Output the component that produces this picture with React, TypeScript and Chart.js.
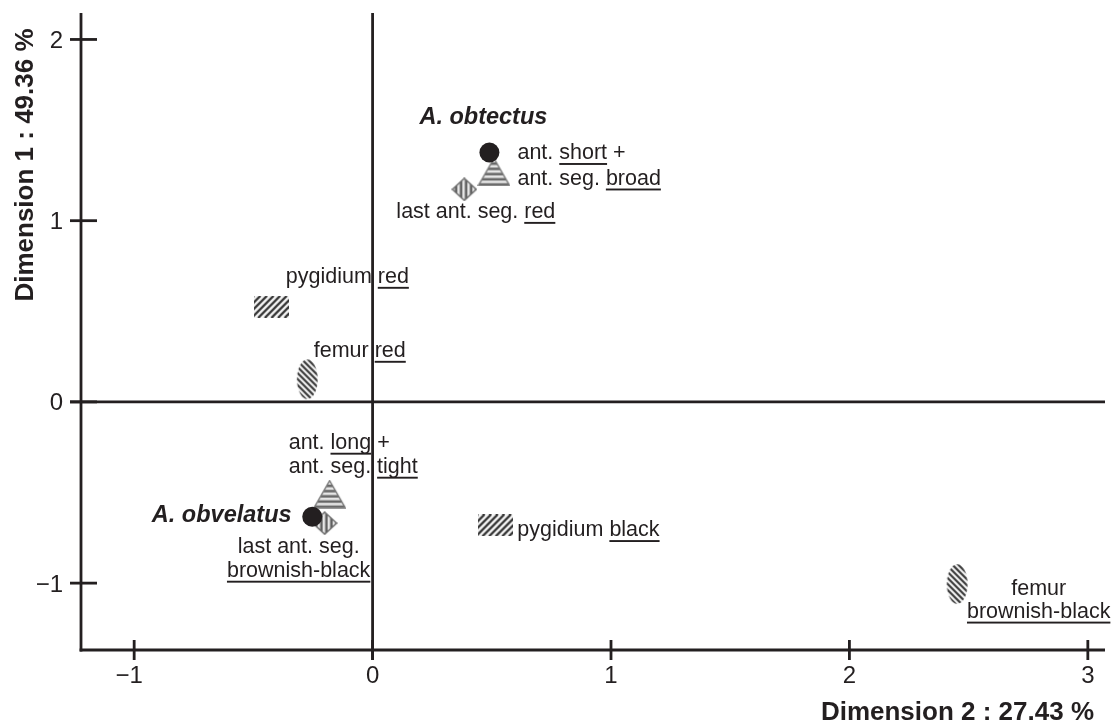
import React, { useEffect, useRef } from "react";
import { Chart, registerables } from "chart.js";

Chart.register(...registerables);

// ---------- data (Dimension 2 = x, Dimension 1 = y) ----------
const speciesNames = ["A. obtectus", "A. obvelatus"];
const speciesDim2 = [0.49, -0.253];
const speciesDim1 = [1.376, -0.634];

const antennaLabels = [
  ["ant. _short_ +", "ant. seg. _broad_"],
  ["ant. _long_ +", "ant. seg. _tight_"],
];
const antennaDim2 = [0.509, -0.18];
const antennaDim1 = [1.269, -0.509];

const lastSegLabels = [["last ant. seg. _red_"], ["last ant. seg.", "_brownish-black_"]];
const lastSegDim2 = [0.385, -0.201];
const lastSegDim1 = [1.173, -0.669];

const pygidiumLabels = [["pygidium _red_"], ["pygidium _black_"]];
const pygidiumDim2 = [-0.425, 0.515];
const pygidiumDim1 = [0.525, -0.682];

const femurLabels = [["femur _red_"], ["femur", "_brownish-black_"]];
const femurDim2 = [-0.274, 2.452];
const femurDim1 = [0.125, -1.005];

const xTicks = [-1, 0, 1, 2, 3];
const xTickLabels = ["\u22121", "0", "1", "2", "3"];
const yTicks = [-1, 0, 1, 2];
const yTickLabels = ["\u22121", "0", "1", "2"];
const xTitle = "Dimension 2 : 27.43 %";
const yTitle = "Dimension 1 : 49.36 %";
const xMin = -1.223;
const xMax = 3.072;
const yMin = -1.369;
const yMax = 2.146;

// ---------- styling / layout ----------
const INK = "#231f20";
const FONT = '"Liberation Sans", Arial, Helvetica, sans-serif';

type LabelPos = { dx: number; dy: number; align: CanvasTextAlign; lh?: number };
const labelLayout: LabelPos[][] = [
  [
    { dx: -70, dy: -29, align: "left" },
    { dx: -20.7, dy: 5, align: "right" },
  ],
  [
    { dx: 23.5, dy: -12.5, align: "left", lh: 25.5 },
    { dx: -41, dy: -45, align: "left", lh: 24 },
  ],
  [
    { dx: -68, dy: 29, align: "left" },
    { dx: -26, dy: 30, align: "center", lh: 24 },
  ],
  [
    { dx: 14.5, dy: -23.5, align: "left" },
    { dx: 22, dy: 11, align: "left" },
  ],
  [
    { dx: 6.5, dy: -22, align: "left" },
    { dx: 81.5, dy: 11, align: "center", lh: 23 },
  ],
];

function makeCanvas(w: number, h: number) {
  const c = document.createElement("canvas");
  c.width = w;
  c.height = h;
  return c;
}

function triangleMarker() {
  const w = 33, h = 29;
  const c = makeCanvas(w, h);
  const g = c.getContext("2d")!;
  g.beginPath();
  g.moveTo(w / 2, 1);
  g.lineTo(w - 1, h - 1);
  g.lineTo(1, h - 1);
  g.closePath();
  g.save();
  g.clip();
  g.fillStyle = "#e6e6e6";
  g.fillRect(0, 0, w, h);
  g.fillStyle = "#666666";
  for (let y = 5; y < h; y += 5.2) g.fillRect(0, y, w, 2.5);
  g.restore();
  g.strokeStyle = "#777777";
  g.lineWidth = 1.4;
  g.stroke();
  return c;
}

function diamondMarker() {
  const w = 26, h = 24;
  const c = makeCanvas(w, h);
  const g = c.getContext("2d")!;
  g.beginPath();
  g.moveTo(w / 2, 1);
  g.lineTo(w - 1, h / 2);
  g.lineTo(w / 2, h - 1);
  g.lineTo(1, h / 2);
  g.closePath();
  g.save();
  g.clip();
  g.fillStyle = "#e6e6e6";
  g.fillRect(0, 0, w, h);
  g.fillStyle = "#5c5c5c";
  for (let x = 3.5; x < w; x += 5) g.fillRect(x, 0, 2.4, h);
  g.restore();
  g.strokeStyle = "#6a6a6a";
  g.lineWidth = 1.4;
  g.stroke();
  return c;
}

function rectMarker() {
  const w = 35, h = 22;
  const c = makeCanvas(w, h);
  const g = c.getContext("2d")!;
  g.fillStyle = "#f6f6f6";
  g.fillRect(0, 0, w, h);
  g.save();
  g.beginPath();
  g.rect(0, 0, w, h);
  g.clip();
  g.strokeStyle = "#333333";
  g.lineWidth = 2.3;
  for (let k = -h; k < w + h; k += 6.6) {
    g.beginPath();
    g.moveTo(k, h);
    g.lineTo(k + h, 0);
    g.stroke();
  }
  g.restore();
  return c;
}

function ellipseMarker() {
  const w = 23, h = 42;
  const c = makeCanvas(w, h);
  const g = c.getContext("2d")!;
  g.beginPath();
  g.ellipse(w / 2, h / 2, w / 2 - 1.2, h / 2 - 1.2, 0, 0, Math.PI * 2);
  g.save();
  g.clip();
  g.fillStyle = "#f6f6f6";
  g.fillRect(0, 0, w, h);
  g.strokeStyle = "#3a3a3a";
  g.lineWidth = 2.2;
  for (let k = -w; k < h + w; k += 6) {
    g.beginPath();
    g.moveTo(0, k);
    g.lineTo(w, k + w);
    g.stroke();
  }
  g.restore();
  g.strokeStyle = "#555555";
  g.lineWidth = 1.5;
  g.stroke();
  return c;
}

function toPoints(xs: number[], ys: number[]) {
  return xs.map((x, i) => ({ x, y: ys[i] }));
}

const seriesLabelText: string[][][] = [
  speciesNames.map((n) => [n]),
  antennaLabels,
  lastSegLabels,
  pygidiumLabels,
  femurLabels,
];

function drawRichLine(
  ctx: CanvasRenderingContext2D,
  text: string,
  x: number,
  baseline: number,
  align: CanvasTextAlign
) {
  const parts = text.split("_");
  const widths = parts.map((p) => ctx.measureText(p).width);
  const total = widths.reduce((a, b) => a + b, 0);
  let start = x;
  if (align === "center") start = x - total / 2;
  else if (align === "right") start = x - total;
  ctx.textAlign = "left";
  let cx = start;
  parts.forEach((p, i) => {
    ctx.fillText(p, cx, baseline);
    if (i % 2 === 1 && p.length) {
      ctx.fillRect(cx, baseline + 3.6, widths[i], 1.9);
    }
    cx += widths[i];
  });
}

const axesPlugin = {
  id: "pcaAxes",
  beforeDatasetsDraw(chart: any) {
    const ctx: CanvasRenderingContext2D = chart.ctx;
    const xs = chart.scales.x;
    const ys = chart.scales.y;
    const a = chart.chartArea;
    const line = (x1: number, y1: number, x2: number, y2: number) => {
      ctx.beginPath();
      ctx.moveTo(x1, y1);
      ctx.lineTo(x2, y2);
      ctx.stroke();
    };
    ctx.save();
    ctx.strokeStyle = INK;
    ctx.lineWidth = 2.8;
    ctx.lineCap = "butt";
    line(a.left, a.top, a.left, a.bottom + 1.4);
    line(a.left - 1.4, a.bottom, a.right, a.bottom);
    const x0 = xs.getPixelForValue(0);
    const y0 = ys.getPixelForValue(0);
    line(x0, a.top, x0, a.bottom + 10);
    line(a.left - 11, y0, a.right, y0);
    yTicks.forEach((v) => {
      const y = ys.getPixelForValue(v);
      line(a.left - 11, y, a.left + 16, y);
    });
    xTicks.forEach((v) => {
      const x = xs.getPixelForValue(v);
      line(x, a.bottom - 10, x, a.bottom + 10);
    });

    ctx.fillStyle = INK;
    ctx.font = `24px ${FONT}`;
    ctx.textBaseline = "alphabetic";
    ctx.textAlign = "center";
    xTicks.forEach((v, i) => {
      const x = xs.getPixelForValue(v);
      const shift = v < 0 ? -5 : 0;
      ctx.fillText(xTickLabels[i], x + shift, a.bottom + 33);
    });
    ctx.textAlign = "right";
    yTicks.forEach((v, i) => {
      const y = ys.getPixelForValue(v);
      ctx.fillText(yTickLabels[i], a.left - 18, y + 8.5);
    });

    ctx.font = `bold 26px ${FONT}`;
    ctx.textAlign = "right";
    ctx.fillText(xTitle, 1094, 720);
    ctx.save();
    ctx.translate(32.5, 165);
    ctx.rotate(-Math.PI / 2);
    ctx.textAlign = "center";
    ctx.fillText(yTitle, 0, 0);
    ctx.restore();
    ctx.restore();
  },
  afterDatasetsDraw(chart: any) {
    const ctx: CanvasRenderingContext2D = chart.ctx;
    ctx.save();
    ctx.fillStyle = INK;
    ctx.textBaseline = "alphabetic";
    seriesLabelText.forEach((labels, di) => {
      const meta = chart.getDatasetMeta(di);
      ctx.font = di === 0 ? `italic bold 23.5px ${FONT}` : `21.5px ${FONT}`;
      labels.forEach((lines, pi) => {
        const el = meta.data[pi];
        const pos = labelLayout[di][pi];
        const lh = pos.lh ?? 24;
        lines.forEach((ln, li) => {
          drawRichLine(ctx, ln, el.x + pos.dx, el.y + pos.dy + li * lh, pos.align);
        });
      });
    });
    ctx.restore();
  },
};

export default function App() {
  const ref = useRef<HTMLCanvasElement>(null);
  useEffect(() => {
    if (!ref.current) return;
    const chart = new Chart(ref.current, {
      type: "scatter",
      data: {
        datasets: [
          {
            label: "species",
            data: toPoints(speciesDim2, speciesDim1),
            pointStyle: "circle",
            pointRadius: 10,
            pointBackgroundColor: INK,
            pointBorderWidth: 0,
          },
          {
            label: "antenna",
            data: toPoints(antennaDim2, antennaDim1),
            pointStyle: triangleMarker() as any,
          },
          {
            label: "last antennal segment",
            data: toPoints(lastSegDim2, lastSegDim1),
            pointStyle: diamondMarker() as any,
          },
          {
            label: "pygidium",
            data: toPoints(pygidiumDim2, pygidiumDim1),
            pointStyle: rectMarker() as any,
          },
          {
            label: "femur",
            data: toPoints(femurDim2, femurDim1),
            pointStyle: ellipseMarker() as any,
          },
        ],
      },
      options: {
        animation: false,
        responsive: false,
        devicePixelRatio: 1,
        layout: { padding: { left: 81, right: 4, top: 13, bottom: 76 } },
        plugins: { legend: { display: false }, tooltip: { enabled: false } },
        events: [],
        scales: {
          x: { type: "linear", min: xMin, max: xMax, display: false },
          y: { type: "linear", min: yMin, max: yMax, display: false },
        },
      },
      plugins: [axesPlugin],
    });
    return () => chart.destroy();
  }, []);
  return (
    <div
      style={{
        position: "absolute",
        left: 0,
        top: 0,
        width: 1115,
        height: 726,
        background: "#fff",
      }}
    >
      <canvas ref={ref} width={1115} height={726} style={{ display: "block" }} />
    </div>
  );
}
